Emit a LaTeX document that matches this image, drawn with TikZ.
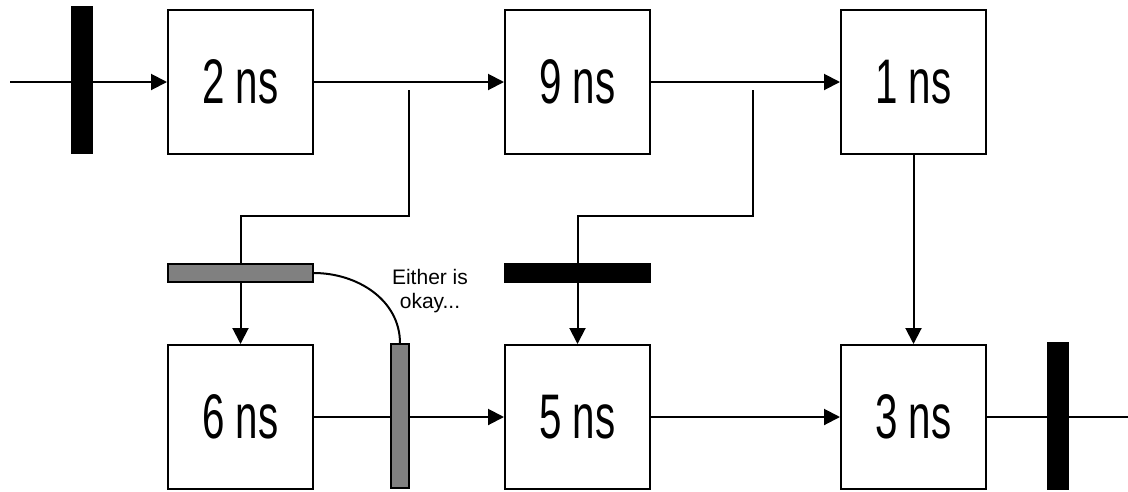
\documentclass[tikz,border=0pt]{standalone}
\usepackage{fontspec}
\usepackage{tikz}
\usetikzlibrary{arrows.meta}
\newfontfamily\stagefont[FakeStretch=0.64]{Liberation Sans}
\newfontfamily\notefont{Liberation Sans}
\tikzset{
stage/.style={draw=black, line width=2pt, fill=white, minimum width=145pt, minimum height=144pt, inner sep=0pt, font=\stagefont\fontsize{63}{63}\selectfont},
reg/.style={draw=black, line width=1.5pt, inner sep=0pt},
wire/.style={line width=2pt},
feed/.style={wire, -{Triangle[length=16pt, width=16pt]}}}

\begin{document}
\begin{tikzpicture}[x=1pt, y=-1pt]
        \useasboundingbox (0,0) rectangle (1128,491);

                    \node[stage] (A) at (240.5,82) {\raisebox{-6pt}{2 ns}};
                    \node[stage] (B) at (577.5,82) {\raisebox{-6pt}{9 ns}};
                    \node[stage] (C) at (913.5,82) {\raisebox{-6pt}{1 ns}};
                    \node[stage] (D) at (240.5,417) {\raisebox{-6pt}{6 ns}};
                    \node[stage] (E) at (577.5,417) {\raisebox{-6pt}{5 ns}};
                    \node[stage] (F) at (913.5,417) {\raisebox{-6pt}{3 ns}};

                    \coordinate (in) at (10,82);
                    \coordinate (out) at (1128,417);
                    \coordinate (tapA) at (409,90);
                    \coordinate (tapB) at (753,90);

                    \draw[feed] (in) -- (A);
                    \draw[feed] (A) -- (B);
                    \draw[feed] (B) -- (C);
                    \draw[feed] (C) -- (F);
                    \draw[feed] (D) -- (E);
                    \draw[feed] (E) -- (F);
                    \draw[wire] (F) -- (out);
                    \draw[feed] (tapA) -- (409,216) -| (D);
                    \draw[feed] (tapB) -- (753,216) -| (E);

                    \node[reg, fill=black, minimum width=20pt, minimum height=146pt] (R1) at (82,80) {};
                    \node[reg, fill=black, minimum width=20pt, minimum height=146pt] (R2) at (1058,416) {};
                    \node[reg, fill=black!50, minimum width=145pt, minimum height=18pt] (G1) at (240.5,273) {};
                    \node[reg, fill=black, minimum width=145pt, minimum height=18pt] (R3) at (577.5,273) {};
                    \node[reg, fill=black!50, minimum width=18pt, minimum height=144pt] (G2) at (400,416) {};

                    \draw[wire] (G1.east) to[out=0, in=90] (G2.north);
                    \node[align=center, font=\notefont\fontsize{21}{24}\selectfont] (note) at (430,291) {Either is\\okay...};

                \end{tikzpicture}
\end{document}
